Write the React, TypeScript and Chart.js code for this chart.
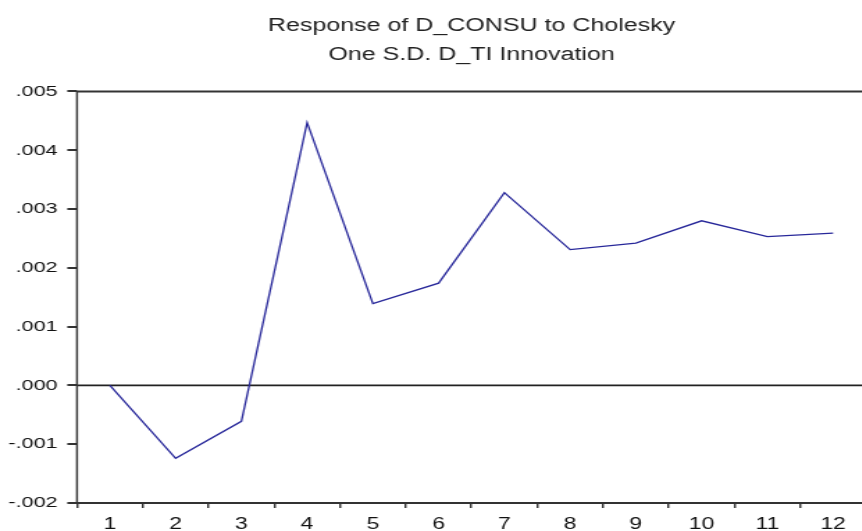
import React, { useEffect, useRef } from "react";
import { Chart, registerables } from "chart.js";

Chart.register(...registerables);

// Impulse response of D_CONSU to a one S.D. D_TI shock, periods 1..12
const periods = ["1", "2", "3", "4", "5", "6", "7", "8", "9", "10", "11", "12"];
const response = [
  0.0, -0.00124, -0.00061, 0.00447, 0.00139, 0.00174, 0.00328, 0.00231, 0.00242,
  0.0028, 0.00253, 0.00259,
];
const yTickValues = [0.005, 0.004, 0.003, 0.002, 0.001, 0, -0.001, -0.002];
const yTickLabels = [".005", ".004", ".003", ".002", ".001", ".000", "-.001", "-.002"];
const titleLines = ["Response of D_CONSU to Cholesky", "One S.D. D_TI Innovation"];

// EViews-style graphs have wide glyphs; the canvas is drawn narrow and widened.
const STRETCH = 1.39;
const CANVAS_W = 640;
const CANVAS_H = 531;
const FONT = "'Liberation Sans', Arial, Helvetica, sans-serif";

const framePlugin = {
  id: "frame",
  beforeDatasetsDraw(chart: any) {
    const { ctx, chartArea, scales } = chart;
    const y0 = scales.y.getPixelForValue(0);
    ctx.save();
    ctx.strokeStyle = "#222";
    ctx.lineWidth = 1.8;
    ctx.beginPath();
    ctx.moveTo(chartArea.left, y0);
    ctx.lineTo(chartArea.right, y0);
    ctx.stroke();
    ctx.restore();
  },
  afterDraw(chart: any) {
    const { ctx, chartArea } = chart;
    const { left, right, top, bottom } = chartArea;
    ctx.save();
    ctx.strokeStyle = "#333";
    ctx.lineWidth = 2;
    ctx.beginPath();
    ctx.moveTo(left, top);
    ctx.lineTo(right, top);
    ctx.moveTo(left, bottom);
    ctx.lineTo(right, bottom);
    ctx.stroke();
    ctx.lineWidth = 2 / STRETCH;
    ctx.beginPath();
    ctx.moveTo(left, top - 1);
    ctx.lineTo(left, bottom + 1);
    ctx.moveTo(right, top - 1);
    ctx.lineTo(right, bottom + 1);
    ctx.stroke();
    ctx.restore();
  },
};

export default function App() {
  const canvasRef = useRef<HTMLCanvasElement | null>(null);

  useEffect(() => {
    const canvas = canvasRef.current;
    if (!canvas) return;
    const chart = new Chart(canvas, {
      type: "line",
      data: {
        labels: periods,
        datasets: [
          {
            data: response,
            borderColor: "#28289a",
            borderWidth: 1.3,
            pointRadius: 0,
            tension: 0,
            fill: false,
          },
        ],
      },
      options: {
        responsive: false,
        animation: false,
        devicePixelRatio: 1,
        layout: { padding: { left: 0, right: 17, top: 0, bottom: 0 } },
        plugins: {
          legend: { display: false },
          tooltip: { enabled: false },
          title: {
            display: true,
            text: titleLines,
            fullSize: false,
            color: "#222",
            font: { family: FONT, size: 18, weight: "normal", lineHeight: 1.58 },
            padding: { top: 12, bottom: 22.6 },
          },
        },
        scales: {
          x: {
            type: "category",
            offset: true,
            border: { display: false },
            grid: {
              offset: true,
              drawOnChartArea: false,
              drawTicks: true,
              tickLength: 5,
              color: "#333",
              lineWidth: 2 / STRETCH,
            },
            ticks: {
              color: "#111",
              font: { family: FONT, size: 16.5 },
              padding: 7,
              autoSkip: false,
              maxRotation: 0,
            },
            afterFit: (scale: any) => {
              scale.height = 28;
            },
          },
          y: {
            min: -0.002,
            max: 0.005,
            border: { display: false },
            grid: {
              drawOnChartArea: false,
              drawTicks: true,
              tickLength: 7,
              color: "#333",
              lineWidth: 2,
            },
            afterBuildTicks: (scale: any) => {
              scale.ticks = yTickValues.map((v) => ({ value: v }));
            },
            ticks: {
              color: "#111",
              font: { family: FONT, size: 15.5 },
              padding: 7,
              callback: (value: any) => {
                const i = yTickValues.findIndex((v) => Math.abs(v - Number(value)) < 1e-9);
                return i >= 0 ? yTickLabels[i] : "";
              },
            },
            afterFit: (scale: any) => {
              scale.width = 55.4;
            },
          },
        },
      },
      plugins: [framePlugin],
    });
    return () => chart.destroy();
  }, []);

  return (
    <div
      style={{
        position: "fixed",
        left: 0,
        top: 0,
        width: 862,
        height: 531,
        overflow: "hidden",
        background: "#fff",
      }}
    >
      <div
        style={{
          width: CANVAS_W,
          height: CANVAS_H,
          transform: `scaleX(${STRETCH})`,
          transformOrigin: "0 0",
        }}
      >
        <canvas
          ref={canvasRef}
          width={CANVAS_W}
          height={CANVAS_H}
          style={{ width: CANVAS_W, height: CANVAS_H, display: "block" }}
        />
      </div>
    </div>
  );
}
